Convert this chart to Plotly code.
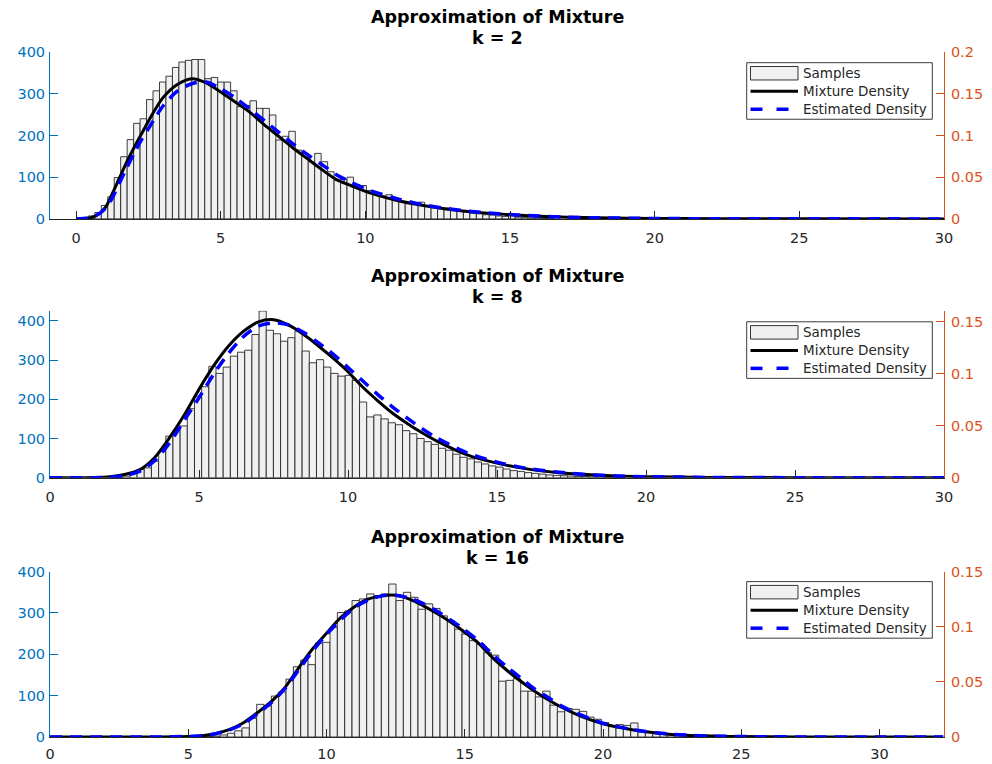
import plotly.graph_objects as go

# ---------------- data ----------------
# k = 2
k2_bin_start = 0.426
k2_bin_width = 0.2235
k2_counts = [7, 15, 32, 53, 99, 149, 190, 229, 240, 286, 307, 328, 342, 363, 376, 380,
             382, 382, 336, 339, 328, 328, 307, 269, 272, 283, 265, 265, 249, 189, 198,
             210, 165, 157, 137, 157, 137, 113, 93, 95, 100, 82, 80, 68, 62, 55, 58, 45,
             42, 38, 36, 40, 30, 27, 25, 26, 22, 18, 17, 14, 12, 10, 9, 7, 6, 12, 4, 3,
             2, 2, 1, 1]
k2_x = [0, 0.4, 0.7, 1.0, 1.25, 1.5, 1.75, 2.0, 2.25, 2.5, 2.75, 3.0, 3.5, 4.0, 4.5,
        5.0, 5.5, 6.0, 6.5, 7.0, 7.5, 8.0, 8.5, 9.0, 9.5, 10, 11, 12, 13, 14, 15, 16,
        17, 18, 20, 22, 25, 30]
k2_mixture = [0, 0.0005, 0.004, 0.013, 0.03, 0.049, 0.068, 0.085, 0.101, 0.117, 0.132,
              0.145, 0.161, 0.168, 0.163, 0.152, 0.14, 0.128, 0.113, 0.099, 0.085, 0.072,
              0.059, 0.047, 0.04, 0.033, 0.023, 0.016, 0.011, 0.0075, 0.005, 0.0032,
              0.002, 0.0013, 0.0005, 0.0002, 0.00005, 0]
k2_estimated = [0, 0.001, 0.004, 0.012, 0.025, 0.043, 0.061, 0.078, 0.094, 0.108, 0.122,
                0.135, 0.153, 0.162, 0.164, 0.156, 0.145, 0.132, 0.118, 0.104, 0.09,
                0.077, 0.065, 0.053, 0.044, 0.036, 0.025, 0.017, 0.0115, 0.0078, 0.0052,
                0.0034, 0.0021, 0.0013, 0.0005, 0.0002, 0.00005, 0]

# k = 8
k8_bin_start = 2.200
k8_bin_width = 0.2408
k8_counts = [1, 4, 12, 21, 25, 42, 68, 106, 121, 132, 176, 208, 232, 284, 266, 282, 310,
             320, 325, 365, 425, 376, 367, 348, 357, 374, 323, 293, 301, 282, 266, 259,
             261, 248, 193, 155, 160, 150, 140, 135, 120, 112, 100, 92, 85, 75, 70, 60,
             52, 48, 40, 35, 30, 27, 22, 18, 16, 13, 11, 9, 7, 6, 5, 4, 3, 3, 2, 2, 1,
             1, 1]
k8_x = [0, 1.0, 1.5, 2.0, 2.5, 3.0, 3.5, 4.0, 4.5, 5.0, 5.5, 6.0, 6.5, 7.0, 7.5, 8.0,
        8.5, 9.0, 9.5, 10, 10.5, 11, 11.5, 12, 12.5, 13, 14, 15, 16, 17, 18, 19, 20, 22,
        25, 30]
k8_mixture = [0, 0, 0.0001, 0.0008, 0.003, 0.0075, 0.019, 0.038, 0.06, 0.085, 0.108,
              0.127, 0.141, 0.150, 0.152, 0.147, 0.138, 0.127, 0.115, 0.102, 0.087,
              0.074, 0.062, 0.052, 0.043, 0.035, 0.022, 0.014, 0.0085, 0.005, 0.003,
              0.0017, 0.001, 0.0003, 0.00005, 0]
k8_estimated = [0, 0, 0, 0.0005, 0.002, 0.006, 0.016, 0.033, 0.055, 0.077, 0.1, 0.12,
                0.136, 0.146, 0.149, 0.147, 0.14, 0.13, 0.119, 0.106, 0.093, 0.08, 0.068,
                0.057, 0.047, 0.038, 0.024, 0.015, 0.009, 0.0055, 0.003, 0.0017, 0.001,
                0.0003, 0.00005, 0]

# k = 16
k16_bin_start = 5.353
k16_bin_width = 0.2652
k16_counts = [1, 1, 2, 5, 9, 15, 22, 45, 79, 75, 99, 109, 140, 170, 186, 175, 227, 229,
              265, 301, 305, 330, 334, 346, 342, 346, 370, 330, 350, 338, 309, 322, 311,
              293, 281, 261, 249, 233, 225, 204, 198, 135, 137, 141, 111, 111, 97, 111,
              77, 61, 69, 67, 62, 48, 43, 35, 28, 30, 28, 34, 16, 12, 12, 8, 6, 5, 4, 3,
              2, 2, 1, 1]
k16_x = [0, 3, 4, 5, 5.5, 6, 6.5, 7, 7.5, 8, 8.5, 9, 9.5, 10, 10.5, 11, 11.5, 12, 12.5,
         13, 13.5, 14, 14.5, 15, 15.5, 16, 16.5, 17, 17.5, 18, 18.5, 19, 19.5, 20, 21, 22,
         23, 24, 25, 27, 30, 32.3]
k16_mixture = [0, 0, 0.0001, 0.0005, 0.0012, 0.0033, 0.007, 0.013, 0.022, 0.032, 0.045,
               0.063, 0.08, 0.094, 0.108, 0.118, 0.125, 0.128, 0.1285, 0.125, 0.119,
               0.112, 0.104, 0.095, 0.085, 0.072, 0.061, 0.051, 0.042, 0.034, 0.027,
               0.021, 0.016, 0.012, 0.0068, 0.0035, 0.0016, 0.0008, 0.0004, 0.0001, 0, 0]
k16_estimated = [0, 0, 0.0001, 0.0005, 0.0012, 0.003, 0.0065, 0.012, 0.021, 0.031,
                 0.044, 0.061, 0.078, 0.093, 0.106, 0.117, 0.124, 0.128, 0.1285, 0.126,
                 0.121, 0.114, 0.106, 0.097, 0.087, 0.075, 0.064, 0.054, 0.044, 0.036,
                 0.028, 0.022, 0.017, 0.0125, 0.007, 0.0036, 0.0017, 0.0008, 0.0004,
                 0.0001, 0, 0]

panel_k = [2, 8, 16]
x_tick_values = [0, 5, 10, 15, 20, 25, 30]
legend_labels = ["Samples", "Mixture Density", "Estimated Density"]

# ---------------- styling ----------------
LEFT_C = "#0072BD"
RIGHT_C = "#D95319"
AX_C = "#262626"
MIX_C = "black"
EST_C = "#0000FF"
EST_DASH = "12px,8px"
FONT = "DejaVu Sans"
TICK_SIZE = 14.5
W, H = 992, 764
M_L, M_R, M_T, M_B = 50, 48, 52, 26.5
PW, PH = W - M_L - M_R, H - M_T - M_B


def px_x(px):
    """Pixel column -> paper x."""
    return (px - M_L) / PW


def px_y(py):
    """Pixel row -> paper y."""
    return (H - M_B - py) / PH


panels = [
    dict(start=k2_bin_start, width=k2_bin_width, counts=k2_counts, x=k2_x,
         mix=k2_mixture, est=k2_estimated, xr=[-0.9, 30], yl=[0, 400], yr=[0, 0.2],
         top=52, bottom=219, leg_top=62.7, xstand=6),
    dict(start=k8_bin_start, width=k8_bin_width, counts=k8_counts, x=k8_x,
         mix=k8_mixture, est=k8_estimated, xr=[0, 30], yl=[0, 425.5], yr=[0, 0.1606],
         top=311, bottom=478, leg_top=322, xstand=6),
    dict(start=k16_bin_start, width=k16_bin_width, counts=k16_counts, x=k16_x,
         mix=k16_mixture, est=k16_estimated, xr=[0, 32.33], yl=[0, 400], yr=[0, 0.15],
         top=572, bottom=737.5, leg_top=582, xstand=4),
]

fig = go.Figure()
layout = dict(
    width=W, height=H,
    margin=dict(l=M_L, r=M_R, t=M_T, b=M_B),
    paper_bgcolor="white", plot_bgcolor="white",
    font=dict(family=FONT, size=TICK_SIZE, color=AX_C),
    barmode="overlay", showlegend=False,
    annotations=[], shapes=[],
)

for i, p in enumerate(panels):
    n = i + 1
    xa = "x" if n == 1 else f"x{n}"
    yl = "y" if n == 1 else f"y{2 * n - 1}"
    yr = f"y{2 * n}"

    centers = [p["start"] + (j + 0.5) * p["width"] for j in range(len(p["counts"]))]
    fig.add_trace(go.Bar(
        x=centers, y=p["counts"], width=p["width"], name=legend_labels[0],
        marker=dict(color="#F0F0F0", line=dict(color="rgba(30,30,30,0.85)", width=1)),
        xaxis=xa, yaxis=yl, hoverinfo="skip",
    ))
    fig.add_trace(go.Scatter(
        x=p["x"], y=p["mix"], mode="lines", name=legend_labels[1],
        line=dict(color=MIX_C, width=3, shape="spline", smoothing=0.8),
        xaxis=xa, yaxis=yr,
    ))
    fig.add_trace(go.Scatter(
        x=p["x"], y=p["est"], mode="lines", name=legend_labels[2],
        line=dict(color=EST_C, width=3.5, dash=EST_DASH, shape="spline", smoothing=0.8),
        xaxis=xa, yaxis=yr,
    ))

    dom = [max(0.0, px_y(p["bottom"])), min(1.0, px_y(p["top"]))]
    xkey = "xaxis" if n == 1 else f"xaxis{n}"
    ylkey = "yaxis" if n == 1 else f"yaxis{2 * n - 1}"
    yrkey = f"yaxis{2 * n}"

    layout[xkey] = dict(
        domain=[0, 1], anchor=yl, range=p["xr"], tickvals=x_tick_values,
        ticks="inside", ticklen=8, tickcolor=AX_C, showline=True, linecolor=AX_C,
        linewidth=1, showgrid=False, zeroline=False, automargin=False,
        ticklabelstandoff=p["xstand"],
        tickfont=dict(family=FONT, size=TICK_SIZE, color=AX_C),
    )
    layout[ylkey] = dict(
        domain=dom, anchor=xa, range=p["yl"], tickvals=[0, 100, 200, 300, 400],
        ticks="inside", ticklen=8, tickcolor=LEFT_C, showline=True, linecolor=LEFT_C,
        linewidth=1, showgrid=False, zeroline=False, automargin=False,
        ticklabelstandoff=1,
        tickfont=dict(family=FONT, size=TICK_SIZE, color=LEFT_C),
    )
    right_ticks = [0, 0.05, 0.1, 0.15, 0.2] if n == 1 else [0, 0.05, 0.1, 0.15]
    layout[yrkey] = dict(
        overlaying=yl, side="right", anchor=xa, range=p["yr"], tickvals=right_ticks,
        ticks="inside", ticklen=8, tickcolor=RIGHT_C, showline=True, linecolor=RIGHT_C,
        linewidth=1, showgrid=False, zeroline=False, automargin=False,
        ticklabelstandoff=3,
        tickfont=dict(family=FONT, size=TICK_SIZE, color=RIGHT_C),
    )

    # two-line bold title
    for text, off in (("Approximation of Mixture", 35), (f"k = {panel_k[i]}", 14)):
        layout["annotations"].append(dict(
            text=text, x=0.5, xref="paper", xanchor="center",
            y=px_y(p["top"] - off), yref="paper", yanchor="middle", showarrow=False,
            font=dict(family=FONT, size=17.5, color="black", weight="bold"),
        ))

    # legend box drawn in the upper-right corner of each panel
    t = p["leg_top"]
    box_l, box_r = 746.7, 932.3
    sym_l, sym_r = 750.5, 798
    text_x = 800.5
    layout["shapes"].append(dict(
        type="rect", xref="paper", yref="paper",
        x0=px_x(box_l), x1=px_x(box_r), y0=px_y(t + 56.6), y1=px_y(t),
        line=dict(color="#3a3a3a", width=1), fillcolor="white", layer="above",
    ))
    layout["shapes"].append(dict(
        type="rect", xref="paper", yref="paper",
        x0=px_x(sym_l), x1=px_x(sym_r), y0=px_y(t + 17.3), y1=px_y(t + 3.8),
        line=dict(color="#333333", width=1), fillcolor="#F0F0F0", layer="above",
    ))
    layout["shapes"].append(dict(
        type="line", xref="paper", yref="paper",
        x0=px_x(sym_l), x1=px_x(sym_r), y0=px_y(t + 28.6), y1=px_y(t + 28.6),
        line=dict(color=MIX_C, width=3), layer="above",
    ))
    layout["shapes"].append(dict(
        type="line", xref="paper", yref="paper",
        x0=px_x(sym_l), x1=px_x(sym_r), y0=px_y(t + 46.6), y1=px_y(t + 46.6),
        line=dict(color=EST_C, width=3.5, dash="12px,14px"), layer="above",
    ))
    for label, off in zip(legend_labels, (10.6, 28.6, 46.0)):
        layout["annotations"].append(dict(
            text=label, x=px_x(text_x), xref="paper", xanchor="left",
            y=px_y(t + off), yref="paper", yanchor="middle", showarrow=False,
            font=dict(family=FONT, size=13.5, color=AX_C),
        ))

fig.update_layout(**layout)
fig.write_html("out.html")
